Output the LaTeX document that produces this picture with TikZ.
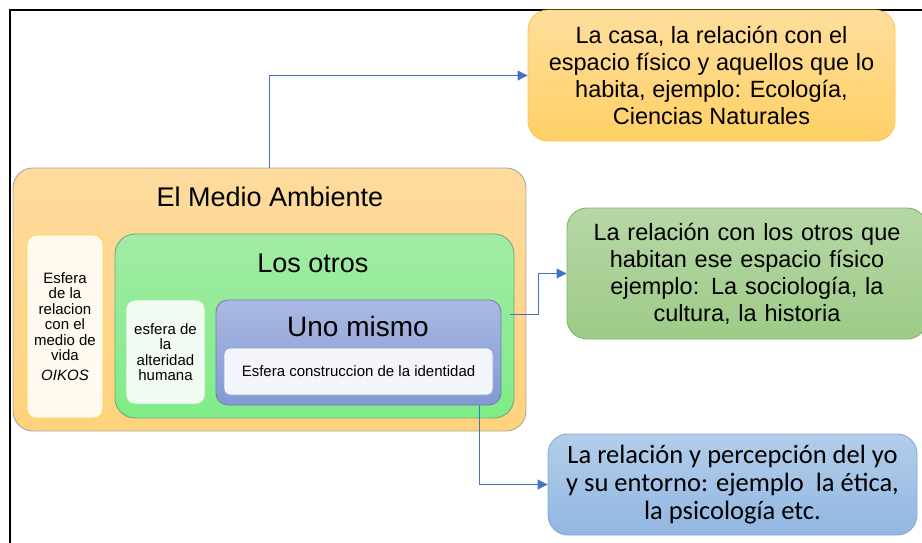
\documentclass[tikz,border=0pt]{standalone}
\usepackage{fontspec}
\setmainfont{Liberation Sans}
\newfontfamily\calibri{Carlito}
\usetikzlibrary{arrows.meta}
\definecolor{medioA}{HTML}{FEDB9E}
\definecolor{medioB}{HTML}{FFD27C}
\definecolor{medioline}{HTML}{A6A6A6}
\definecolor{oikosfill}{HTML}{FFF9F0}
\definecolor{oikosline}{HTML}{FFD447}
\definecolor{otrosA}{HTML}{A2EBA5}
\definecolor{otrosB}{HTML}{7FEC87}
\definecolor{otrosline}{HTML}{72A87A}
\definecolor{alterfill}{HTML}{F2FBF2}
\definecolor{alterline}{HTML}{99EE99}
\definecolor{unoA}{HTML}{ABBAE2}
\definecolor{unoB}{HTML}{8198D3}
\definecolor{unoline}{HTML}{6F80B5}
\definecolor{idfill}{HTML}{F4F5FA}
\definecolor{idline}{HTML}{8FA6DD}
\definecolor{casaA}{HTML}{FFDE9C}
\definecolor{casaB}{HTML}{FFD065}
\definecolor{casaline}{HTML}{FFC64A}
\definecolor{socA}{HTML}{B6D7A6}
\definecolor{socB}{HTML}{9ECB87}
\definecolor{socline}{HTML}{82B466}
\definecolor{yoA}{HTML}{B3CDEA}
\definecolor{yoB}{HTML}{92B7E2}
\definecolor{yoline}{HTML}{82AADB}
\definecolor{linkblue}{HTML}{4472C4}
\begin{document}
\begin{tikzpicture}[x=1pt,y=-1pt]
    \tikzstyle{box}=[rectangle,rounded corners=9pt,align=center,inner sep=0pt,line width=0.9pt]
    \tikzstyle{bigbox}=[box,rounded corners=20pt]
    \tikzstyle{title}=[font=\fontsize{27}{30}\selectfont]
    \tikzstyle{small}=[font=\fontsize{15}{15.5}\selectfont]
    \tikzstyle{note}=[bigbox,font=\fontsize{23.5}{27}\selectfont]
    \tikzstyle{link}=[draw=linkblue,line width=0.9pt,-{Triangle[length=10pt,width=10pt]}]
    \useasboundingbox (0,0) rectangle (922,542);
    \draw[line width=2pt] (10,543) -- (10,10) -- (923,10);

    \node [bigbox,draw=medioline,top color=medioA,bottom color=medioB,minimum width=513pt,minimum height=263pt] (medio) at (269.5,299.5) {};
    \node [title] (mediotitle) at (270,197) {El Medio Ambiente};
    \node [box,draw=oikosline,fill=oikosfill,minimum width=76pt,minimum height=183pt,small] (oikos) at (65,326.5) {Esfera\\de la\\relacion\\con el\\medio de\\vida\\[4pt]\textit{OIKOS}};
    \node [bigbox,draw=otrosline,top color=otrosA,bottom color=otrosB,minimum width=399pt,minimum height=184pt] (losotros) at (314.5,326) {};
    \node [title] (otrostitle) at (313,263) {Los otros};
    \node [box,draw=alterline,fill=alterfill,minimum width=79pt,minimum height=104pt,small] (alteridad) at (165.5,352) {esfera de\\la\\alteridad\\humana};
    \node [box,rounded corners=12pt,draw=unoline,top color=unoA,bottom color=unoB,minimum width=285pt,minimum height=105pt] (uno) at (358.5,352.5) {};
    \node [title,font=\fontsize{28}{30}\selectfont] (unotitle) at (358,326) {Uno mismo};
    \node [box,rounded corners=6pt,draw=idline,fill=idfill,minimum width=269pt,minimum height=47pt,small] (identidad) at (358.5,371.5) {Esfera construccion de la identidad};

    \node [note,draw=casaline,top color=casaA,bottom color=casaB,minimum width=367pt,minimum height=131pt] (casa) at (711.5,75.5) {La casa, la relación con el\\espacio físico y aquellos que lo\\habita, ejemplo: Ecología,\\Ciencias Naturales};
    \node [note,draw=socline,top color=socA,bottom color=socB,minimum width=360pt,minimum height=131pt,text width=340pt] (sociologia) at (747,273.5) {La relación con los otros que\\habitan ese espacio físico\\ejemplo: La sociología, la\\cultura, la historia};
    \node [note,font=\calibri\fontsize{26.5}{28}\selectfont,draw=yoline,top color=yoA,bottom color=yoB,minimum width=369pt,minimum height=101pt] (yo) at (732.5,484.5) {La relación y percepción del yo\\y su entorno: ejemplo\ \ la ética,\\la psicología etc.};

    \coordinate (c2) at (510,314);
    \coordinate (c3) at (479,405);
    \path[link] (medio.north) |- (casa.west);
    \path[link] (c2) -- ++(28,0) |- (sociologia.west);
    \path[link] (c3) |- (yo.west);
\end{tikzpicture}
\end{document}
